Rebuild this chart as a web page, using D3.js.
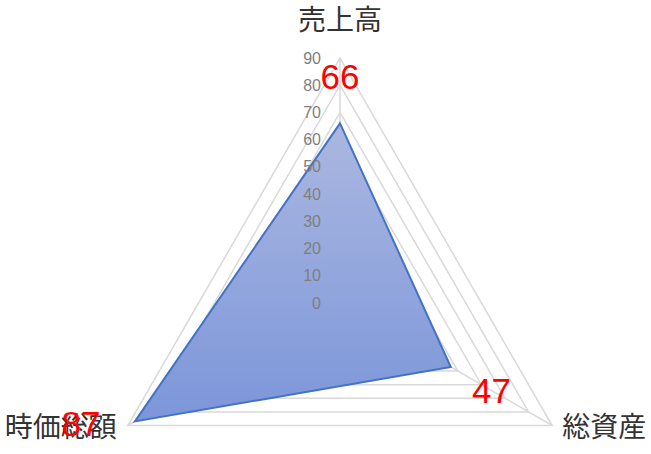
<!DOCTYPE html>
<html>
<head>
<meta charset="utf-8">
<script src="https://cdn.jsdelivr.net/npm/d3@7"></script>
<style>
  body { margin: 0; background: #fff; }
  svg { display: block; }
  .tick-label { font-family: "Liberation Sans", "Noto Sans", sans-serif; font-size: 16px; fill: #7f7f7f; }
  .axis-name { font-family: "Noto Sans CJK JP", sans-serif; font-size: 28px; fill: #333; }
  .value-label { font-family: "Liberation Sans", "Noto Sans", sans-serif; font-size: 35px; fill: #ff0000; }
</style>
</head>
<body>
<div id="chart"></div>
<script>
// chart data
const categories = ["売上高", "総資産", "時価総額"];
const values = [66, 47, 87];
const ticks = [0, 10, 20, 30, 40, 50, 60, 70, 80, 90];

const width = 651, height = 454;
const cx = 340, cy = 303;

let svg = d3.select("#chart").append("svg")
    .attr("width", width).attr("height", height);

let rScale = d3.scaleLinear().domain([0, 90]).range([0, 245]);

// angle of each axis, starting straight up, going clockwise
let angle = i => -Math.PI / 2 + i * 2 * Math.PI / categories.length;
let point = (i, v) => [cx + Math.cos(angle(i)) * rScale(v), cy + Math.sin(angle(i)) * rScale(v)];

let defs = svg.append("defs");
let grad = defs.append("linearGradient").attr("id", "fillGrad")
    .attr("x1", 0).attr("y1", 0).attr("x2", 0).attr("y2", 1);
grad.append("stop").attr("offset", "0%").attr("stop-color", "#abb7e0");
grad.append("stop").attr("offset", "100%").attr("stop-color", "#7c96da");

// grid triangles
let gridLine = d3.line();
svg.append("g").selectAll("path")
    .data(ticks.filter(t => t > 0))
    .join("path")
    .attr("d", t => gridLine(categories.map((c, i) => point(i, t))) + "Z")
    .attr("fill", "none")
    .attr("stroke", "#d9d9d9")
    .attr("stroke-width", 1.5);

// spokes
svg.append("g").selectAll("line")
    .data(categories)
    .join("line")
    .attr("x1", cx).attr("y1", cy)
    .attr("x2", (d, i) => point(i, 90)[0])
    .attr("y2", (d, i) => point(i, 90)[1])
    .attr("stroke", "#d9d9d9")
    .attr("stroke-width", 1.5);

// data area
svg.append("path")
    .attr("d", gridLine(values.map((v, i) => point(i, v))) + "Z")
    .attr("fill", "url(#fillGrad)")
    .attr("stroke", "#4472c4")
    .attr("stroke-width", 2)
    .attr("stroke-linejoin", "miter");

// tick labels on the vertical axis
svg.append("g").selectAll("text")
    .data(ticks)
    .join("text")
    .classed("tick-label", true)
    .attr("x", cx - 19)
    .attr("y", t => cy - rScale(t))
    .attr("dy", "0.35em")
    .attr("text-anchor", "end")
    .text(t => t);

// category names
svg.append("g").selectAll("text")
    .data(categories)
    .join("text")
    .classed("axis-name", true)
    .attr("x", (d, i) => {
        let p = point(i, 90);
        let c = Math.cos(angle(i));
        return p[0] + (Math.abs(c) < 0.01 ? 0 : (c > 0 ? 10 : -11));
    })
    .attr("y", (d, i) => {
        let p = point(i, 90);
        let s = Math.sin(angle(i));
        return s < 0 ? p[1] - 38 : p[1] + 2;
    })
    .attr("dy", "0.35em")
    .attr("text-anchor", (d, i) => {
        let c = Math.cos(angle(i));
        return Math.abs(c) < 0.01 ? "middle" : (c > 0 ? "start" : "end");
    })
    .text(d => d);

// value labels
let labelDist = 47, maxLabelY = 423;
svg.append("g").selectAll("text")
    .data(values)
    .join("text")
    .classed("value-label", true)
    .each(function (v, i) {
        let p = point(i, v);
        let x = p[0] + Math.cos(angle(i)) * labelDist;
        let y = p[1] + Math.sin(angle(i)) * labelDist;
        if (y > maxLabelY) {
            x -= (y - maxLabelY) * 0.6;
            y = maxLabelY;
        }
        d3.select(this).attr("x", x).attr("y", y);
    })
    .attr("dy", "0.36em")
    .attr("text-anchor", "middle")
    .text(v => v);
</script>
</body>
</html>
